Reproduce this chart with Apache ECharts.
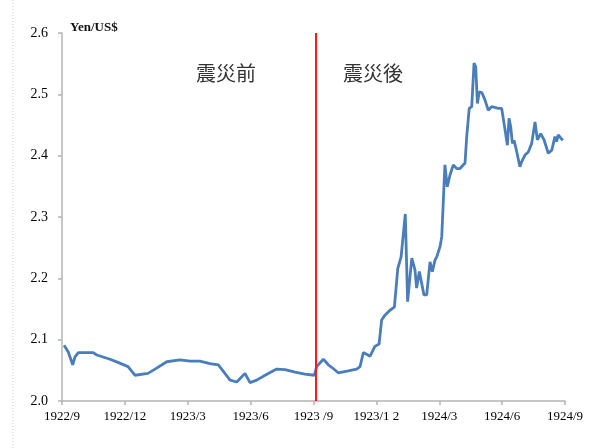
<!DOCTYPE html>
<html><head><meta charset="utf-8">
<script src="https://cdn.jsdelivr.net/npm/echarts@6/dist/echarts.min.js"></script>
<style>html,body{margin:0;padding:0;background:#fff}#c{width:601px;height:448px}</style>
</head><body><div id="c"></div>
<script>
// x = months elapsed since 1922/9 (0..24)
const tickLabels = ['1922/9','1922/12','1923/3','1923/6','1923 /9','1923/1 2','1924/3','1924/6','1924/9'];
const months = [0.10,0.30,0.51,0.62,0.78,1.49,1.66,2.29,2.67,3.15,3.48,4.10,4.44,5.00,5.63,6.11,6.58,7.06,7.46,8.02,8.34,8.73,8.97,9.29,9.69,10.24,10.64,11.12,11.59,12.04,
  12.15,12.47,12.71,12.94,13.18,13.66,14.06,14.22,14.38,14.70,14.93,15.13,15.25,15.41,15.65,15.86,16.02,16.18,16.38,16.49,16.69,16.84,16.92,17.05,17.27,17.40,17.56,17.67,17.80,17.88,18.04,18.12,
  18.27,18.38,18.51,18.67,18.83,18.99,19.23,19.31,19.43,19.55,19.66,19.74,19.82,19.91,20.03,20.18,20.34,20.50,20.58,20.82,20.98,21.14,21.25,21.33,21.41,21.49,21.57,21.66,21.85,21.93,
  22.09,22.25,22.41,22.57,22.68,22.84,23.00,23.20,23.37,23.52,23.60,23.68,23.84,23.90];
const rates = [2.091,2.080,2.059,2.072,2.079,2.079,2.075,2.068,2.063,2.056,2.042,2.045,2.052,2.064,2.067,2.065,2.065,2.061,2.059,2.034,2.031,2.045,2.030,2.034,2.042,2.052,2.051,2.047,2.044,2.042,
  2.056,2.068,2.059,2.053,2.046,2.049,2.052,2.056,2.079,2.073,2.089,2.093,2.132,2.140,2.148,2.153,2.216,2.235,2.305,2.162,2.233,2.214,2.184,2.211,2.173,2.173,2.227,2.211,2.230,2.235,2.252,2.268,
  2.385,2.349,2.368,2.385,2.379,2.379,2.388,2.431,2.477,2.480,2.551,2.545,2.485,2.504,2.503,2.491,2.474,2.480,2.483,2.477,2.477,2.442,2.417,2.461,2.447,2.420,2.425,2.412,2.382,2.390,
  2.401,2.406,2.420,2.455,2.426,2.436,2.426,2.404,2.409,2.431,2.423,2.434,2.427,2.425];
const quakeMonth = 12.12;
const yTicks = [2.0,2.1,2.2,2.3,2.4,2.5,2.6];
const beforeLabel = '震災前', afterLabel = '震災後', unitLabel = 'Yen/US$';

const chart = echarts.init(document.getElementById('c'), null, {renderer:'canvas'});
const serif = 'Liberation Serif';
chart.setOption({
  animation:false,
  grid:{left:62,right:36,top:33,bottom:47},
  xAxis:{type:'value',min:0,max:24,interval:3,
    axisLine:{onZero:false,lineStyle:{color:'#b4b4b4',width:1.5}},
    axisTick:{show:true,length:4,lineStyle:{color:'#b4b4b4',width:1.5}},
    splitLine:{show:false},
    axisLabel:{margin:9,color:'#000',fontFamily:serif,fontSize:13,
      formatter:v=>tickLabels[Math.round(v/3)]}},
  yAxis:{type:'value',min:yTicks[0],max:yTicks[yTicks.length-1],interval:0.1,
    axisLine:{show:true,lineStyle:{color:'#b4b4b4',width:1.5}},
    axisTick:{show:true,length:4,lineStyle:{color:'#b4b4b4',width:1.5}},
    splitLine:{show:false},
    axisLabel:{margin:14,color:'#000',fontFamily:serif,fontSize:14,formatter:v=>v.toFixed(1)}},
  series:[{type:'line',data:months.map((m,i)=>[m,rates[i]]),showSymbol:false,symbol:'none',
    lineStyle:{color:'#4a7ebb',width:2.8},z:3,
    markLine:{silent:true,symbol:'none',label:{show:false},
      lineStyle:{color:'#ff1a1a',width:2,type:'solid'},data:[{xAxis:quakeMonth}]}}],
  graphic:[
    {type:'line',shape:{x1:13,y1:0,x2:13,y2:448},style:{stroke:'#c4c4c4',lineWidth:1,lineDash:[1,2]}},
    {type:'text',left:70,top:21,style:{text:unitLabel,font:'bold 13px "Liberation Serif"',fill:'#111'}},
    {type:'text',left:196,top:63,style:{text:beforeLabel,font:'20px "Noto Sans CJK JP"',fill:'#333'}},
    {type:'text',left:343,top:63,style:{text:afterLabel,font:'20px "Noto Sans CJK JP"',fill:'#333'}}
  ]
});
</script></body></html>
